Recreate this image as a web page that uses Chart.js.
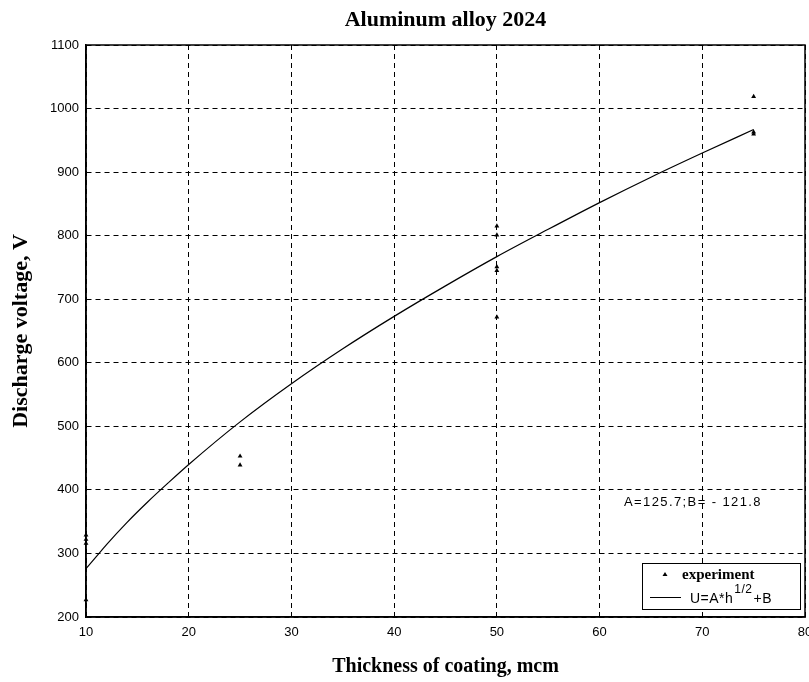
<!DOCTYPE html>
<html>
<head>
<meta charset="utf-8">
<script src="https://cdn.jsdelivr.net/npm/chart.js@4.4.1/dist/chart.umd.min.js"></script>
<style>
html,body{margin:0;padding:0;background:#fff;}
#wrap{width:809px;height:682px;position:relative;}
</style>
</head>
<body>
<div id="wrap"><canvas id="c" width="809" height="682"></canvas></div>
<script>
// experimental points (thickness, voltage)
const expX = [10, 10, 10, 10, 25, 25, 50, 50, 50, 50, 50, 75, 75, 75];
const expY = [329, 322, 316, 227, 453, 439, 815, 801, 751, 745, 672, 1019, 963, 960];
// fitted curve
const fitX = [10, 11, 12, 14, 16, 18, 20, 25, 30, 35, 40, 45, 50, 55, 60, 65, 70, 75];
const fitY = [276, 295, 314, 349, 381, 411, 440, 507, 567, 622, 673, 721, 767, 810, 852, 892, 930, 967];
const xTicks = [10, 20, 30, 40, 50, 60, 70, 80];
const yTicks = [200, 300, 400, 500, 600, 700, 800, 900, 1000, 1100];

const titleText = 'Aluminum alloy 2024';
const xTitle = 'Thickness of coating, mcm';
const yTitle = 'Discharge voltage, V';
const noteText = 'A=125.7;B= - 121.8';
const legendExp = 'experiment';

const serif = '"Liberation Serif", "Times New Roman", serif';
const sansFam = '"Liberation Sans", Arial, sans-serif';

const frame = {
  id: 'frame',
  beforeDatasetsDraw(chart) {
    const ctx = chart.ctx;
    const a = chart.chartArea;
    ctx.save();
    ctx.strokeStyle = '#000';
    ctx.lineWidth = 1.5;
    ctx.setLineDash([]);
    ctx.strokeRect(a.left, a.top, a.right - a.left, a.bottom - a.top);
    ctx.restore();
  }
};

const decor = {
  id: 'decor',
  afterDraw(chart) {
    const ctx = chart.ctx;
    const a = chart.chartArea;
    const cx = (a.left + a.right) / 2;
    const cy = (a.top + a.bottom) / 2;
    ctx.save();
    ctx.fillStyle = '#000';
    ctx.textAlign = 'center';
    ctx.textBaseline = 'middle';
    ctx.font = 'bold 22px ' + serif;
    ctx.fillText(titleText, cx, 20);
    ctx.font = 'bold 20px ' + serif;
    ctx.fillText(xTitle, cx, 667);
    ctx.save();
    ctx.translate(21, cy);
    ctx.rotate(-Math.PI / 2);
    ctx.font = 'bold 22px ' + serif;
    ctx.fillText(yTitle, 0, 0);
    ctx.restore();
    // annotation
    ctx.font = '13px ' + sansFam;
    ctx.textAlign = 'left';
    ctx.letterSpacing = '1.4px';
    ctx.fillText(noteText, 624, 502);
    ctx.letterSpacing = '0px';
    // legend box
    const lx = 642, ly = 563, lw = 158, lh = 46;
    ctx.fillStyle = '#fff';
    ctx.fillRect(lx, ly, lw, lh);
    ctx.strokeStyle = '#000';
    ctx.lineWidth = 1;
    ctx.strokeRect(lx + 0.5, ly + 0.5, lw, lh);
    ctx.fillStyle = '#000';
    ctx.beginPath();
    ctx.moveTo(665, 572);
    ctx.lineTo(667.5, 576);
    ctx.lineTo(662.5, 576);
    ctx.closePath();
    ctx.fill();
    ctx.font = 'bold 15px ' + serif;
    ctx.fillText(legendExp, 682, 575);
    ctx.beginPath();
    ctx.moveTo(650, 597.5);
    ctx.lineTo(681, 597.5);
    ctx.stroke();
    ctx.font = '14px ' + sansFam;
    ctx.letterSpacing = '0.5px';
    ctx.fillText('U=A*h', 690, 599);
    const w = ctx.measureText('U=A*h').width;
    ctx.font = '12px ' + sansFam;
    ctx.fillText('1/2', 690 + w + 1, 590);
    const w2 = ctx.measureText('1/2').width;
    ctx.font = '14px ' + sansFam;
    ctx.fillText('+B', 690 + w + w2 + 2, 599);
    ctx.restore();
  }
};

const chart = new Chart(document.getElementById('c'), {
  type: 'scatter',
  data: {
    datasets: [
      {
        label: legendExp,
        data: expX.map((x, i) => ({x: x, y: expY[i]})),
        pointStyle: 'triangle',
        pointRadius: 2.8,
        backgroundColor: '#000',
        borderColor: '#000',
        borderWidth: 0,
        showLine: false,
        clip: false,
        order: 1
      },
      {
        label: 'U=A*h^1/2+B',
        data: fitX.map((x, i) => ({x: x, y: fitY[i]})),
        showLine: true,
        pointRadius: 0,
        borderColor: '#000',
        borderWidth: 1.2,
        tension: 0.4,
        cubicInterpolationMode: 'monotone',
        order: 2
      }
    ]
  },
  options: {
    responsive: false,
    animation: false,
    devicePixelRatio: 1,
    layout: {padding: {left: 0, right: 2, top: 45, bottom: 0}},
    plugins: {legend: {display: false}, title: {display: false}, tooltip: {enabled: false}},
    scales: {
      x: {
        type: 'linear',
        min: 10, max: 80,
        afterBuildTicks: (s) => { s.ticks = xTicks.map(v => ({value: v})); },
        afterFit: (s) => { s.height = 65; s.paddingLeft = 0; s.paddingRight = 0; },
        grid: {color: '#000', lineWidth: 1, drawTicks: false},
        border: {display: true, color: '#000', width: 1.5, dash: [5, 4]},
        ticks: {color: '#000', font: {family: sansFam, size: 13}, padding: 8, maxRotation: 0,
                callback: (v) => String(v)}
      },
      y: {
        type: 'linear',
        min: 200, max: 1100,
        afterBuildTicks: (s) => { s.ticks = yTicks.map(v => ({value: v})); },
        afterFit: (s) => { s.width = 86; s.paddingTop = 0; s.paddingBottom = 0; },
        grid: {color: '#000', lineWidth: 1, drawTicks: false},
        border: {display: true, color: '#000', width: 1.5, dash: [5, 4]},
        ticks: {color: '#000', font: {family: sansFam, size: 13}, padding: 7,
                callback: (v) => String(v)}
      }
    }
  },
  plugins: [frame, decor]
});
</script>
</body>
</html>
